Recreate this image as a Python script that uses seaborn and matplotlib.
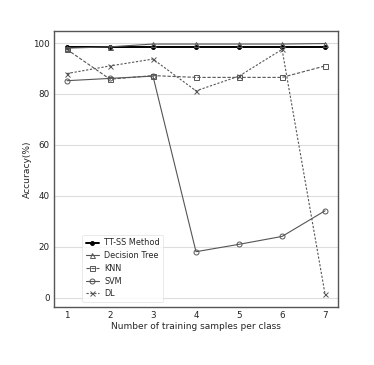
import matplotlib
matplotlib.use("Agg")
import matplotlib.pyplot as plt
import seaborn as sns
import pandas as pd

samples = [1, 2, 3, 4, 5, 6, 7]
tt_ss = [98.6, 98.6, 98.6, 98.6, 98.6, 98.6, 98.6]
decision_tree = [98.0, 98.5, 99.6, 99.6, 99.6, 99.6, 99.8]
knn = [97.5, 85.8, 87.2, 86.5, 86.5, 86.5, 91.0]
svm = [85.2, 86.1, 87.0, 18.0, 20.9, 24.0, 34.1]
dl = [88.0, 91.0, 93.7, 81.2, 87.0, 97.5, 1.2]

series_names = ["TT-SS Method", "Decision Tree", "KNN", "SVM", "DL"]
series_values = [tt_ss, decision_tree, knn, svm, dl]

sns.set_style("whitegrid")
plt.rcParams['font.family'] = ['DejaVu Sans']

fig = plt.figure(figsize=(3.74, 3.65), dpi=100)
ax = fig.add_axes([54 / 374, 1 - 307 / 365, (338 - 54) / 374, (307 - 31) / 365])

styles = {
    "TT-SS Method": dict(marker="o", linestyle="-", color="black", linewidth=1.4, markersize=2.8,
                         markerfacecolor="black", markeredgecolor="black"),
    "Decision Tree": dict(marker="^", linestyle="-", color="#555555", linewidth=0.8, markersize=3.6,
                          markerfacecolor="none", markeredgecolor="#555555"),
    "KNN": dict(marker="s", linestyle=(0, (3, 1.5)), color="#555555", linewidth=0.8, markersize=3.6,
                markerfacecolor="none", markeredgecolor="#555555"),
    "SVM": dict(marker="o", linestyle="-", color="#555555", linewidth=0.8, markersize=3.6,
                markerfacecolor="none", markeredgecolor="#555555"),
    "DL": dict(marker="x", linestyle=(0, (2, 1.5)), color="#555555", linewidth=0.8, markersize=3.6,
               markeredgecolor="#555555"),
}

for name, vals in zip(series_names, series_values):
    df = pd.DataFrame({"x": samples, "y": vals})
    st = styles[name]
    sns.lineplot(data=df, x="x", y="y", ax=ax, label=name,
                 marker=st["marker"], linestyle=st["linestyle"], color=st["color"],
                 linewidth=st["linewidth"], markersize=st["markersize"],
                 markerfacecolor=st.get("markerfacecolor", st["color"]),
                 markeredgecolor=st["markeredgecolor"], markeredgewidth=0.7)

ax.set_xticks(samples)
ax.set_yticks([0, 20, 40, 60, 80, 100])
ax.grid(axis="x", visible=False)
ax.grid(axis="y", color="#dddddd", linewidth=0.8)
ax.tick_params(labelsize=6.3, colors="#222222", length=0, pad=3)
ax.set_xlabel("Number of training samples per class", fontsize=6.5, labelpad=1)
ax.set_ylabel("Accuracy(%)", fontsize=6.6, labelpad=1)
for sp in ax.spines.values():
    sp.set_color("#555555")
    sp.set_linewidth(1.0)

leg = ax.legend(loc="lower left", bbox_to_anchor=(0.085, 0.005), fontsize=5.9,
                frameon=True, handlelength=1.6, handletextpad=0.7, borderpad=0.4,
                labelspacing=0.45)
leg.get_frame().set_edgecolor("#e0e0e0")
leg.get_frame().set_linewidth(0.6)

fig.savefig("out.png", dpi=100)
